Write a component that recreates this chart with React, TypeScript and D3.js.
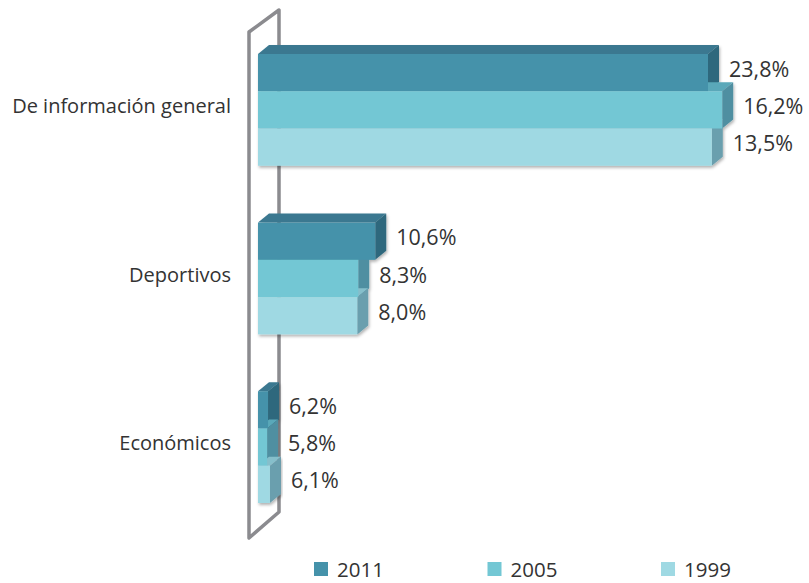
import React from 'react';
import * as d3 from 'd3';

// categories and series
const categories = ['De información general', 'Deportivos', 'Económicos'];
const years = ['2011', '2005', '1999'];

// values printed next to each bar (%)
const values2011 = [23.8, 10.6, 6.2];
const values2005 = [16.2, 8.3, 5.8];
const values1999 = [13.5, 8.0, 6.1];

// bar lengths as they are drawn in the source graphic (same % units, not proportional to the labels)
const drawn2011 = [23.8, 6.2, 0.53];
const drawn2005 = [24.55, 5.3, 0.48];
const drawn1999 = [24.0, 5.25, 0.63];

const colors = {
  '2011': { front: '#4592aa', top: '#3a7890', side: '#2e687d' },
  '2005': { front: '#73c7d4', top: '#5aa8b9', side: '#4f8fa1' },
  '1999': { front: '#9fd9e3', top: '#86bfcb', side: '#6b9fae' },
};

const width = 809;
const height = 583;
const depthX = 11;
const depthY = -9;
const font = "'Open Sans', 'Noto Sans', sans-serif";
const textColor = '#333';

const fmt = (v: number) => v.toFixed(1).replace('.', ',') + '%';

const App = () => {
  const x = d3.scaleLinear().domain([0, 23.8]).range([258, 708]);
  const y = d3.scaleBand().domain(categories).range([54, 503]).paddingInner(0.337).paddingOuter(0);
  const yInner = d3.scaleBand().domain(years).range([0, y.bandwidth()]);
  const legendX = d3.scalePoint().domain(years).range([314, 661]);

  const series = [
    { year: '2011', values: values2011, drawn: drawn2011 },
    { year: '2005', values: values2005, drawn: drawn2005 },
    { year: '1999', values: values1999, drawn: drawn1999 },
  ];

  const bars = categories.flatMap((cat, i) =>
    series.map((s) => {
      const y0 = (y(cat) || 0) + (yInner(s.year) || 0);
      const h = yInner.bandwidth();
      const x0 = x(0);
      const x1 = x(s.drawn[i]);
      return { cat, year: s.year, value: s.values[i], x0, x1, y0, h };
    })
  );

  const face = (pts: [number, number][]) => 'M' + pts.map((p) => p.join(',')).join('L') + 'Z';

  return (
    <svg width={width} height={height} style={{ position: 'absolute', left: 0, top: 0, background: '#fff' }}>
      <defs>
        <filter id="shadow" x="-5%" y="-5%" width="110%" height="120%">
          <feDropShadow dx="1" dy="2" stdDeviation="1.5" floodColor="#000" floodOpacity="0.3" />
        </filter>
      </defs>

      {/* back wall */}
      <path
        d="M249,538 L249,32 L279,10 L279,512 Z"
        fill="none"
        stroke="#8b8b8f"
        strokeWidth={3.5}
        strokeLinejoin="round"
      />

      {categories.map((cat) => {
        const gb = bars.filter((b) => b.cat === cat);
        return (
          <g key={cat} filter="url(#shadow)">
            {gb.map((b) => (
              <g key={b.year + '-back'}>
                <path
                  d={face([
                    [b.x0, b.y0],
                    [b.x0 + depthX, b.y0 + depthY],
                    [b.x1 + depthX, b.y0 + depthY],
                    [b.x1, b.y0],
                  ])}
                  fill={colors[b.year as '2011'].top}
                />
                <path
                  d={face([
                    [b.x1, b.y0],
                    [b.x1 + depthX, b.y0 + depthY],
                    [b.x1 + depthX, b.y0 + b.h + depthY],
                    [b.x1, b.y0 + b.h],
                  ])}
                  fill={colors[b.year as '2011'].side}
                />
              </g>
            ))}
            {gb.map((b) => (
              <rect
                key={b.year + '-front'}
                x={b.x0}
                y={b.y0}
                width={b.x1 - b.x0}
                height={b.h}
                fill={colors[b.year as '2011'].front}
              />
            ))}
          </g>
        );
      })}

      {/* value labels */}
      {bars.map((b) => (
        <text
          key={b.cat + b.year + '-lbl'}
          x={b.x1 + depthX + 10}
          y={b.y0 + b.h / 2 + 4}
          fontFamily={font}
          fontSize={21.5}
          fill={textColor}
        >
          {fmt(b.value)}
        </text>
      ))}

      {/* category labels */}
      {categories.map((cat) => (
        <text
          key={cat}
          x={231}
          y={(y(cat) || 0) + y.bandwidth() / 2 + 3}
          textAnchor="end"
          fontFamily={font}
          fontSize={20}
          fill={textColor}
        >
          {cat}
        </text>
      ))}

      {/* legend */}
      {years.map((yr) => (
        <g key={yr} transform={`translate(${legendX(yr)}, 562)`}>
          <rect width={14} height={14} fill={colors[yr as '2011'].front} />
          <text x={23} y={15} fontFamily={font} fontSize={20.5} fill={textColor}>
            {yr}
          </text>
        </g>
      ))}
    </svg>
  );
};

export default App;
